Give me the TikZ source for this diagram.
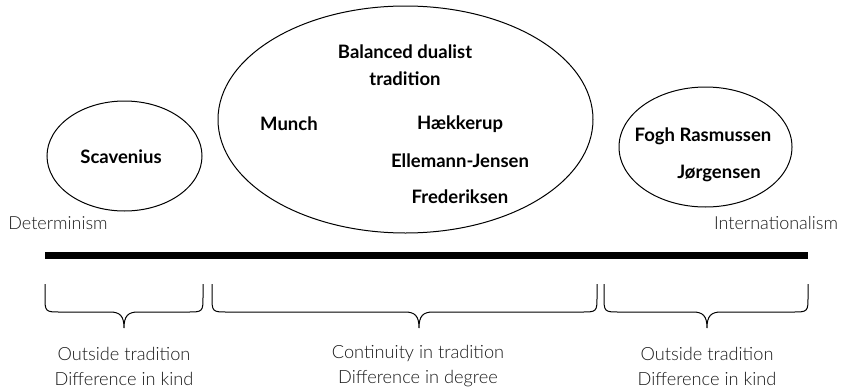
\documentclass[tikz,border=0pt]{standalone}
\usepackage{fontspec}
\setmainfont{Lato}
\newfontfamily\lightfont{Lato Light}
\usetikzlibrary{shapes.geometric}

\tikzset{
	blob/.style = {draw, ellipse, line width=1pt, inner sep=0pt},
	person/.style = {font=\fontsize{18.5}{27}\selectfont\bfseries},
	pole/.style = {font=\fontsize{18}{20}\lightfont, text=black!90},
	verdict/.style = {font=\fontsize{18.2}{25}\lightfont, text=black!90, align=center},
	bracestyle/.style = {line width=1pt}
}

% curly brace: left end, right end, tip
\newcommand{\tradbrace}[3]{%
	\draw[bracestyle] (#1, 284) -- (#1, 296) .. controls (#1, 312) .. (#1+16, 312) -- (#3-14, 312)
		.. controls (#3-4, 312) and (#3, 316) .. (#3, 328)
		.. controls (#3, 316) and (#3+4, 312) .. (#3+14, 312) -- (#2-16, 312)
		.. controls (#2, 312) .. (#2, 296) -- (#2, 284);}

\begin{document}
\begin{tikzpicture}[x=1pt, y=-1pt]
	\useasboundingbox (0, 0) rectangle (843, 391);
	
	% the three groups
	\node[blob, minimum width=155pt, minimum height=110pt] (outleft) at (124.5, 156) {};
	\node[blob, minimum width=375pt, minimum height=227pt] (dualist) at (405.5, 119.5) {};
	\node[blob, minimum width=173pt, minimum height=120pt] (outright) at (705.5, 147) {};
	
	\node[person] (scavenius) at (121, 157) {Scavenius};
	\node[person, align=center] (title) at (405, 65) {Balanced dualist\\tradition};
	\node[person] (munch) at (289, 124) {Munch};
	\node[person] (haekkerup) at (460, 124) {Hækkerup};
	\node[person] (ellemann) at (460, 161) {Ellemann-Jensen};
	\node[person] (frederiksen) at (460, 197) {Frederiksen};
	\node[person] (fogh) at (703, 136) {Fogh Rasmussen};
	\node[person] (joergensen) at (719, 173) {Jørgensen};
	
	% the scale
	\node[pole] (determinism) at (58, 223) {Determinism};
	\node[pole] (internationalism) at (776, 223) {Internationalism};
	\coordinate (scalestart) at (45, 255);
	\coordinate (scaleend) at (808, 255);
	\draw[line width=7pt] (scalestart) -- (scaleend);
	
	\tradbrace{45}{203}{124}
	\tradbrace{212}{597}{419}
	\tradbrace{604}{808}{707}
	
	\node[verdict] (kindleft) at (124, 366) {Outside tradition\\Difference in kind};
	\node[verdict] (degree) at (418, 366) {Continuity in tradition\\Difference in degree};
	\node[verdict] (kindright) at (707, 366) {Outside tradition\\Difference in kind};
\end{tikzpicture}
\end{document}
